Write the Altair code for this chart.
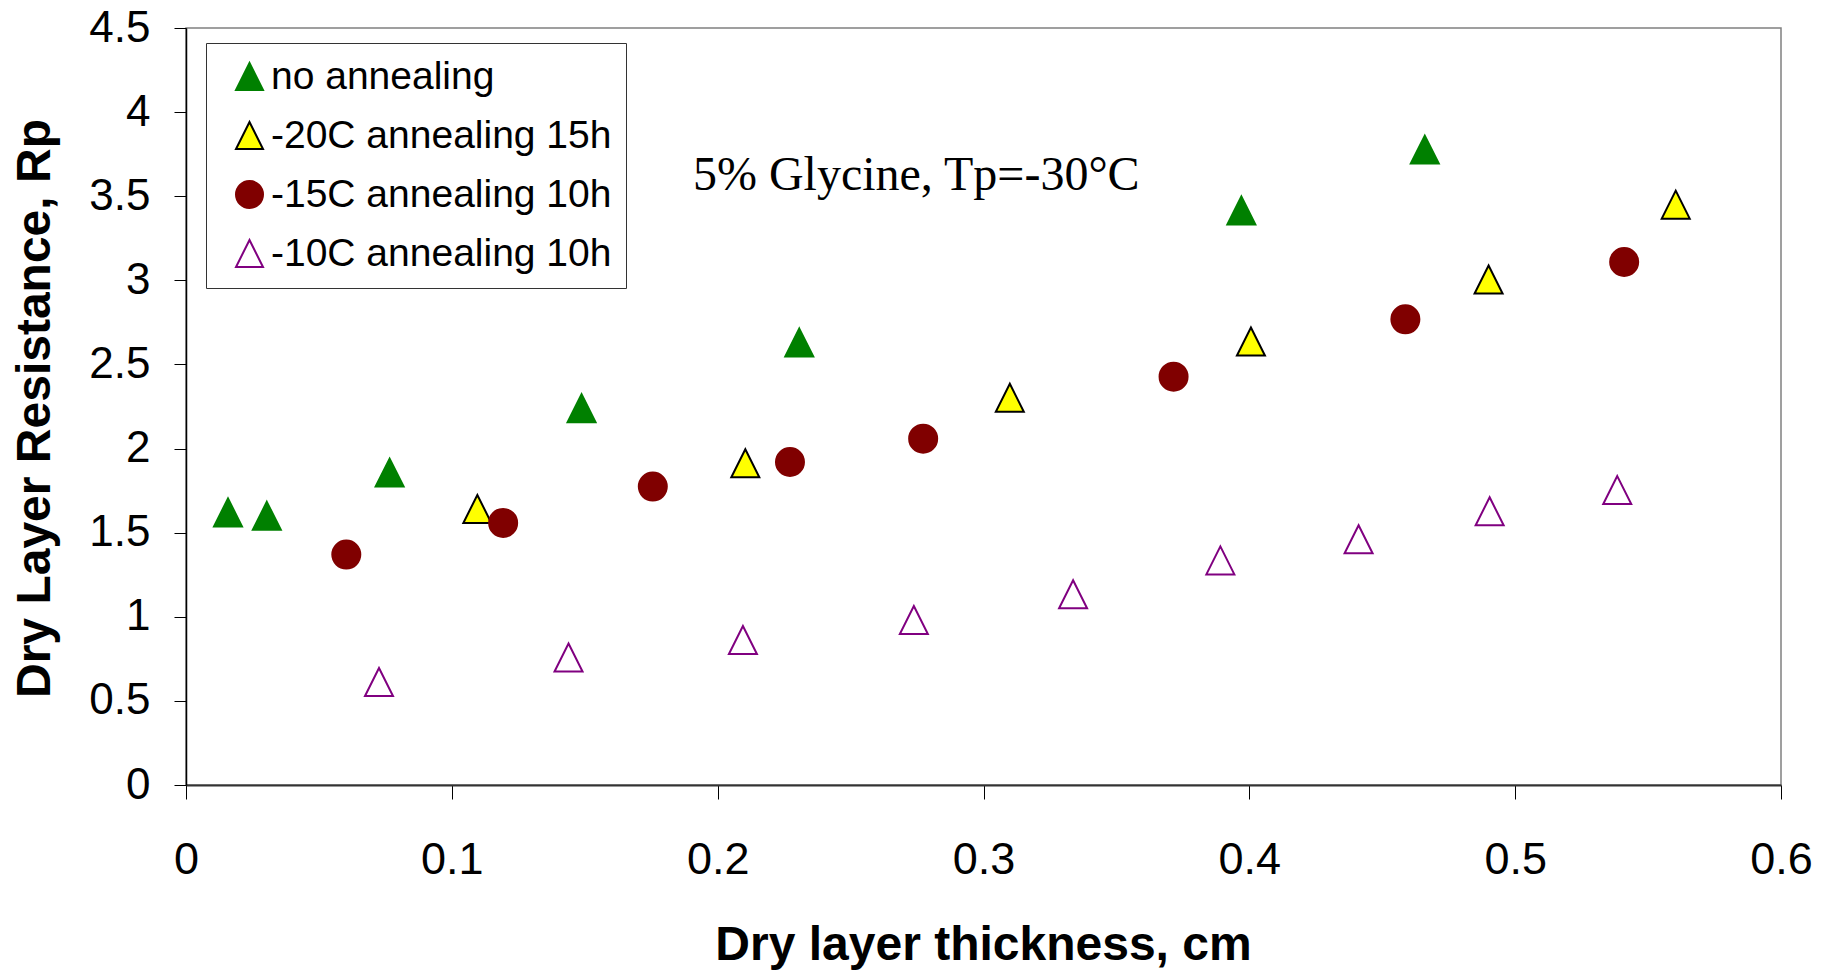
import altair as alt
import pandas as pd

series_names = ["no annealing", "-20C annealing 15h", "-15C annealing 10h", "-10C annealing 10h"]
fill_colors = ["#008000", "#FFFF00", "#800000", "#FFFFFF"]
stroke_colors = ["#008000", "#000000", "#800000", "#800080"]
TRI = "M0,-1L1,1L-1,1Z"
shapes = [TRI, TRI, "circle", TRI]

no_ann_x = [0.0158, 0.0304, 0.0766, 0.1488, 0.2307, 0.3970, 0.4660]
no_ann_y = [1.62, 1.60, 1.857, 2.24, 2.63, 3.415, 3.777]

m20_x = [0.1096, 0.2104, 0.3099, 0.4006, 0.4900, 0.5604]
m20_y = [1.641, 1.913, 2.302, 2.636, 3.005, 3.450]

m15_x = [0.0603, 0.1193, 0.1756, 0.2272, 0.2773, 0.3715, 0.4587, 0.5410]
m15_y = [1.370, 1.558, 1.774, 1.920, 2.059, 2.427, 2.768, 3.109]

m10_x = [0.0726, 0.1439, 0.2095, 0.2738, 0.3337, 0.3891, 0.4411, 0.4904, 0.5384]
m10_y = [0.612, 0.758, 0.862, 0.981, 1.134, 1.335, 1.461, 1.627, 1.753]

x_ticks = [0, 0.1, 0.2, 0.3, 0.4, 0.5, 0.6]
y_ticks = [0, 0.5, 1, 1.5, 2, 2.5, 3, 3.5, 4, 4.5]

annotation = "5% Glycine, Tp=-30°C"

rows = []
for name, xs, ys in zip(series_names,
                        [no_ann_x, m20_x, m15_x, m10_x],
                        [no_ann_y, m20_y, m15_y, m10_y]):
    for xv, yv in zip(xs, ys):
        rows.append({"x": xv, "y": yv, "series": name})
df = pd.DataFrame(rows)

legend = alt.Legend(
    title=None,
    orient="none",
    legendX=20,
    legendY=15,
    labelFont="Liberation Sans",
    labelFontSize=39,
    labelColor="#000000",
    labelExpr="datum.label + '\u00a0'",
    symbolSize=729,
    symbolStrokeWidth=2,
    symbolOffset=10,
    labelOffset=2,
    rowPadding=19,
    padding=14,
    strokeColor="#333333",
    fillColor="#FFFFFF",
    labelLimit=600,
)

points = alt.Chart(df).mark_point(
    size=784, strokeWidth=2, opacity=1, fillOpacity=1, strokeOpacity=1, filled=True
).encode(
    x=alt.X(
        "x:Q",
        scale=alt.Scale(domain=[0, 0.6], nice=False, zero=False),
        axis=alt.Axis(
            values=x_ticks,
            format="~g",
            title="Dry layer thickness, cm",
            grid=False,
            tickSize=14,
            tickColor="#000000",
            domainColor="#333333",
            domainWidth=2,
            labelFont="Liberation Sans",
            labelFontSize=45,
            labelColor="#000000",
            labelPadding=38,
            labelFlush=False,
            labelOverlap=False,
            labelBound=False,
            titleFont="Liberation Sans",
            titleFontSize=48,
            titleFontWeight="bold",
            titleColor="#000000",
            titleX=797,
            titleY=136,
            titleAlign="center",
            titleBaseline="top",
        ),
    ),
    y=alt.Y(
        "y:Q",
        scale=alt.Scale(domain=[0, 4.5], nice=False, zero=False),
        axis=alt.Axis(
            values=y_ticks,
            format="~g",
            title="Dry Layer Resistance, Rp",
            grid=False,
            tickSize=12,
            tickColor="#000000",
            domainColor="#000000",
            domainWidth=1.5,
            labelFont="Liberation Sans",
            labelFontSize=44,
            labelColor="#000000",
            labelPadding=24,
            labelFlush=False,
            labelOverlap=False,
            labelBound=False,
            titleFont="Liberation Sans",
            titleFontSize=48,
            titleFontWeight="bold",
            titleColor="#000000",
            titleAngle=270,
            titleX=-175,
            titleY=380,
            titleAlign="center",
            titleBaseline="top",
        ),
    ),
    fill=alt.Fill("series:N", scale=alt.Scale(domain=series_names, range=fill_colors), legend=legend),
    stroke=alt.Stroke("series:N", scale=alt.Scale(domain=series_names, range=stroke_colors), legend=legend),
    shape=alt.Shape("series:N", scale=alt.Scale(domain=series_names, range=shapes), legend=legend),
)

text = alt.Chart(pd.DataFrame({"t": [annotation]})).mark_text(
    font="Liberation Serif",
    fontSize=48,
    align="left",
    baseline="alphabetic",
    color="#000000",
).encode(
    x=alt.datum(0.1907),
    y=alt.datum(3.539),
    text="t:N",
)

chart = alt.layer(points, text).properties(
    width=1595,
    height=757,
    autosize=alt.AutoSizeParams(type="none"),
    padding={"left": 186, "top": 28, "right": 54, "bottom": 186},
    background="#FFFFFF",
).configure_view(
    stroke="#808080",
    strokeWidth=1.5,
)

chart.save("out.html", embed_options={"renderer": "svg", "actions": False})
